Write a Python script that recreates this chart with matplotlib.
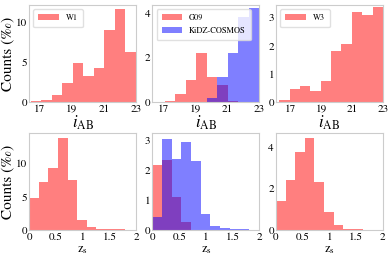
import numpy as np
import matplotlib
matplotlib.use('Agg')
import matplotlib.pyplot as plt

plt.rcParams['font.family'] = ['STIXGeneral', 'DejaVu Serif']
plt.rcParams['mathtext.fontset'] = 'stix'

# --- i_AB histograms (counts in per mille) ---
w1_edges = np.linspace(16.46, 23, 11)
w1_counts = [0.1, 0.3, 0.9, 2.4, 4.9, 3.2, 4.2, 9.0, 11.6, 6.2]

g09_edges = np.linspace(16.41, 23, 11)
g09_counts = [0.02, 0.05, 0.35, 1.0, 2.2, 1.1, 0.75, 0.05, 0.0, 0.0]
kidz_counts = [0.0, 0.0, 0.0, 0.0, 0.0, 0.2, 1.1, 2.2, 3.8, 4.2]

w3_edges = np.linspace(16.31, 23, 11)
w3_counts = [0.07, 0.46, 0.58, 0.4, 0.76, 1.83, 2.05, 3.2, 3.08, 3.37]

# --- z_s histograms ---
z_edges = np.linspace(0, 1.8, 11)
w1_z = [4.8, 7.3, 9.3, 13.9, 7.5, 1.5, 0.4, 0.2, 0.15, 0.1]
g09_z = [2.17, 2.33, 1.1, 0.27, 0, 0, 0, 0, 0, 0]
kidz_z = [0.43, 3.03, 2.37, 2.92, 2.3, 0.55, 0.12, 0.08, 0.04, 0.03]
w3_z = [1.38, 2.4, 3.76, 4.43, 2.33, 0.86, 0.25, 0.06, 0.04, 0.02]

RED, BLUE = 'r', 'b'


def bars(ax, edges, counts, color, label=None):
    ax.bar(edges[:-1], counts, width=np.diff(edges), align='edge',
           color=color, alpha=0.5, lw=0, label=label)


fig, axes = plt.subplots(2, 3, figsize=(3.9, 2.57), dpi=100)
fig.subplots_adjust(left=0.0744, right=0.982, top=0.9805, bottom=0.105,
                    wspace=0.154, hspace=0.32)

a = axes[0]
bars(a[0], w1_edges, w1_counts, RED, 'W1')
bars(a[1], g09_edges, g09_counts, RED, 'G09')
bars(a[1], g09_edges, kidz_counts, BLUE, 'KiDZ-COSMOS')
bars(a[2], w3_edges, w3_counts, RED, 'W3')
a[0].set_xlim(16.35, 23); a[0].set_ylim(0, 12.1)
a[1].set_xlim(16.3, 23); a[1].set_ylim(0, 4.35)
a[2].set_xlim(16.1, 23); a[2].set_ylim(0, 3.45)
a[0].set_yticks([0, 5, 10])
a[1].set_yticks([0, 2, 4])
a[2].set_yticks([0, 1, 2, 3])
for ax in a:
    ax.set_xticks([17, 19, 21, 23])
    ax.set_xlabel(r'$i_{\rm AB}$', fontsize=12, labelpad=0)
    ax.legend(loc='upper left', fontsize=6, handlelength=2.5,
              borderpad=0.6, labelspacing=0.6, edgecolor='0.85')

b = axes[1]
bars(b[0], z_edges, w1_z, RED)
bars(b[1], z_edges, g09_z, RED)
bars(b[1], z_edges, kidz_z, BLUE)
bars(b[2], z_edges, w3_z, RED)
b[0].set_ylim(0, 14.6); b[0].set_yticks([0, 5, 10])
b[1].set_ylim(0, 3.23); b[1].set_yticks([0, 1, 2, 3])
b[2].set_ylim(0, 4.67); b[2].set_yticks([0, 2, 4])
for ax in b:
    ax.set_xlim(0, 2)
    ax.set_xticks([0, 0.5, 1, 1.5, 2])
    ax.set_xticklabels(['0', '0.5', '1', '1.5', '2'])
    ax.set_xlabel(r'z$_{\rm s}$', fontsize=9, labelpad=2)

for ax in axes.flat:
    ax.tick_params(length=0, pad=1.5, labelsize=8)
    for s in ax.spines.values():
        s.set_color('0.8')
        s.set_linewidth(0.8)

for row in axes:
    row[0].set_ylabel('Counts (‰)', fontsize=11, labelpad=1)

fig.savefig('out.png', dpi=100)
